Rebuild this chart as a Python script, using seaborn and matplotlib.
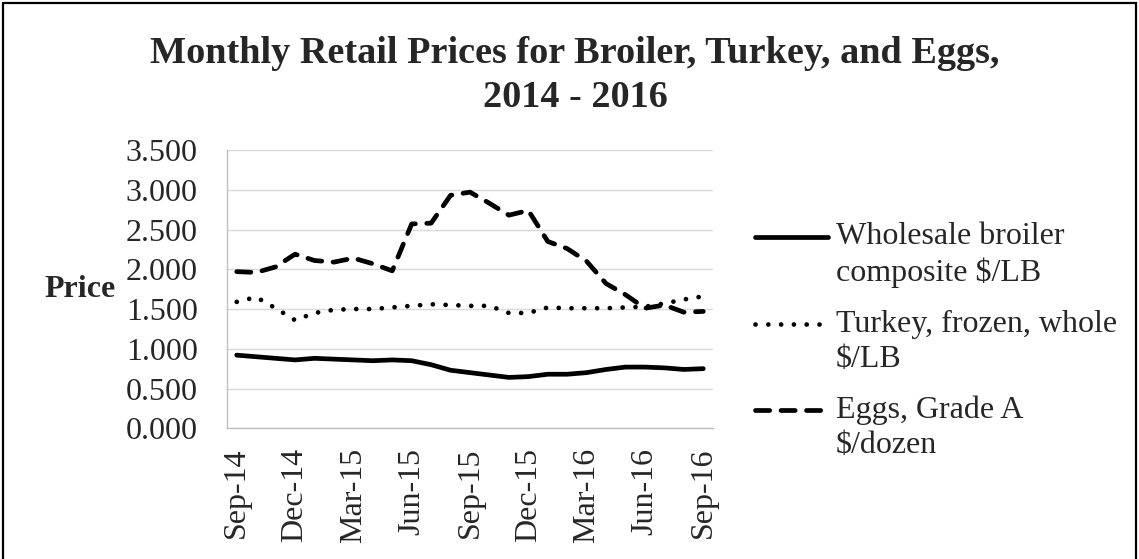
import numpy as np
import pandas as pd
import matplotlib
matplotlib.use("Agg")
import matplotlib.pyplot as plt
import seaborn as sns
from matplotlib.legend_handler import HandlerLine2D
from matplotlib.patches import Rectangle

months = ["Sep-14", "Oct-14", "Nov-14", "Dec-14", "Jan-15", "Feb-15", "Mar-15",
          "Apr-15", "May-15", "Jun-15", "Jul-15", "Aug-15", "Sep-15", "Oct-15",
          "Nov-15", "Dec-15", "Jan-16", "Feb-16", "Mar-16", "Apr-16", "May-16",
          "Jun-16", "Jul-16", "Aug-16", "Sep-16"]
broiler = [0.92, 0.90, 0.88, 0.86, 0.88, 0.87, 0.86, 0.85, 0.86, 0.85, 0.80,
           0.73, 0.70, 0.67, 0.64, 0.65, 0.68, 0.68, 0.70, 0.74, 0.77, 0.77,
           0.76, 0.74, 0.75]
turkey = [1.59, 1.65, 1.51, 1.36, 1.45, 1.49, 1.50, 1.50, 1.52, 1.54, 1.56,
          1.55, 1.54, 1.54, 1.45, 1.45, 1.52, 1.51, 1.51, 1.51, 1.52, 1.53,
          1.57, 1.62, 1.66]
eggs = [1.97, 1.96, 2.03, 2.19, 2.11, 2.09, 2.14, 2.07, 1.98, 2.57, 2.58,
        2.93, 2.97, 2.83, 2.68, 2.74, 2.35, 2.26, 2.10, 1.82, 1.68, 1.51,
        1.55, 1.46, 1.47]
labels = ["Wholesale broiler\ncomposite $/LB",
          "Turkey, frozen, whole\n$/LB",
          "Eggs, Grade A\n$/dozen"]
yticks = [0.0, 0.5, 1.0, 1.5, 2.0, 2.5, 3.0, 3.5]
title = "Monthly Retail Prices for Broiler, Turkey, and Eggs,\n2014 - 2016"

sns.set_theme(style="white")
plt.rcParams["font.family"] = ["Liberation Serif", "DejaVu Serif"]

FS = 23

df = pd.DataFrame({"idx": np.arange(len(months)), "month": months,
                   "broiler": broiler, "turkey": turkey, "eggs": eggs})

fig = plt.figure(figsize=(11.39, 5.59), dpi=100)
ax = fig.add_axes([227/1139, 1 - 428.3/559, (713-227)/1139, (428.3-150)/559])

styles = [
    dict(linestyle="-", solid_capstyle="round"),
    dict(linestyle=(0, (0.01, 2.7)), dash_capstyle="round"),
    dict(linestyle=(0, (3.0, 2.4)), dash_capstyle="round"),
]
for col, lab, st in zip(["broiler", "turkey", "eggs"], labels, styles):
    sns.lineplot(data=df, x="idx", y=col, ax=ax, color="black", lw=3.4,
                 label=lab, **st)

ax.set_xlim(-0.5, len(months) - 0.5)
ax.set_ylim(0, 3.5)
ax.set_yticks(yticks)
ax.set_yticklabels([f"{v:.3f}" for v in yticks], fontsize=FS)
tick_pos = list(range(0, len(months), 3))
ax.set_xticks(tick_pos)
ax.set_xticklabels([months[i] for i in tick_pos], rotation=90, fontsize=FS)
ax.tick_params(axis="y", length=0, pad=21)
ax.tick_params(axis="x", length=0, pad=14)
ax.grid(axis="y", color="#D9D9D9", lw=1)
ax.set_axisbelow(True)
for s in ["top", "right"]:
    ax.spines[s].set_visible(False)
for s in ["left", "bottom"]:
    ax.spines[s].set_color("#BFBFBF")
    ax.spines[s].set_linewidth(1)
ax.set_xlabel("")
ax.set_ylabel("Price", rotation=0, fontsize=FS, fontweight="bold",
              ha="right", va="center")
ax.yaxis.set_label_coords((116-227)/486, 0.5)

LS = 1.27
SHIFT = 12.6  # points: half of one text line pitch

class TopLineHandler(HandlerLine2D):
    def create_artists(self, legend, orig_handle, xdescent, ydescent,
                       width, height, fontsize, trans):
        arts = super().create_artists(legend, orig_handle, xdescent, ydescent,
                                      width, height, fontsize, trans)
        for a in arts:
            y = a.get_ydata()
            a.set_ydata(np.asarray(y) + SHIFT)
        return arts

handles, labs = ax.get_legend_handles_labels()
leg = ax.legend(handles, labs, loc="upper left",
                bbox_to_anchor=(755/1139, 1 - 222/559),
                bbox_transform=fig.transFigure, frameon=False, fontsize=FS,
                handlelength=2.3, handletextpad=0.22, labelspacing=0.69,
                borderpad=0, borderaxespad=0,
                handler_map={h: TopLineHandler() for h in handles})
for t in leg.get_texts():
    t.set_linespacing(LS)

fig.suptitle(title, x=575/1139, y=1 - 36/559, fontsize=27.5, fontweight="bold",
             va="top", linespacing=1.35)

fig.add_artist(Rectangle((3/1139, -0.1), (1136-3)/1139, 1.1 - 3/559,
                         transform=fig.transFigure, fill=False,
                         edgecolor="black", lw=1.6))

fig.savefig("out.png", dpi=100)
